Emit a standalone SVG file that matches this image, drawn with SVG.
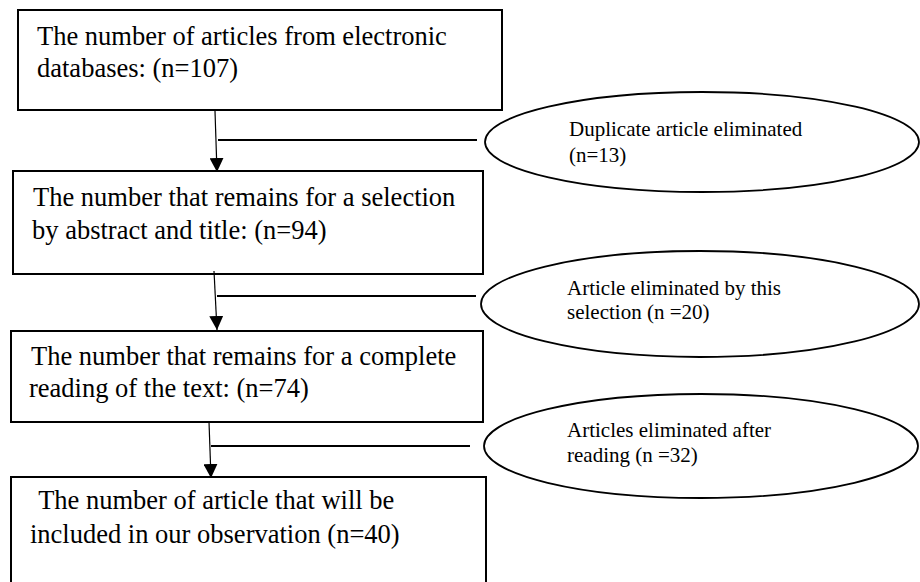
<svg xmlns="http://www.w3.org/2000/svg" width="920" height="582" viewBox="0 0 920 582">
  <style>
    .box { fill: #ffffff; stroke: #000000; stroke-width: 2; }
    .ell { fill: #ffffff; stroke: #000000; stroke-width: 1.8; }
    .bt { font-family: "Liberation Serif", "Times New Roman", serif; font-size: 26.5px; fill: #000000; }
    .et { font-family: "Liberation Serif", "Times New Roman", serif; font-size: 21px; fill: #000000; }
    .arrow { stroke: #000000; stroke-width: 1.2; fill: none; marker-end: url(#ah); }
    .side { stroke: #000000; stroke-width: 2.2; fill: none; }
  </style>
  <defs>
    <marker id="ah" markerUnits="userSpaceOnUse" markerWidth="14" markerHeight="14" refX="13" refY="6.5" orient="auto" viewBox="0 0 13 13">
      <path d="M0,0 L13,6.5 L0,13 z" fill="#000000"/>
    </marker>
  </defs>

  <g id="box1">
    <rect class="box" x="18" y="10" width="484" height="100"/>
    <text class="bt" x="37" y="45">The number of articles from electronic</text>
    <text class="bt" x="37" y="77">databases: (n=107)</text>
  </g>
  <g id="box2">
    <rect class="box" x="13" y="171" width="470" height="103"/>
    <text class="bt" x="33" y="206">The number that remains for a selection</text>
    <text class="bt" x="32" y="239">by abstract and title: (n=94)</text>
  </g>
  <g id="box3">
    <rect class="box" x="11" y="331" width="472" height="91"/>
    <text class="bt" x="31" y="365">The number that remains for a complete</text>
    <text class="bt" x="29" y="397">reading of the text: (n=74)</text>
  </g>
  <g id="box4">
    <rect class="box" x="11" y="477" width="475" height="110"/>
    <text class="bt" x="32" y="509" xml:space="preserve"> The number of article that will be</text>
    <text class="bt" x="30" y="543">included in our observation (n=40)</text>
  </g>

  <g id="ellipse1">
    <ellipse class="ell" cx="702" cy="142" rx="217" ry="50"/>
    <text class="et" x="569" y="136">Duplicate article eliminated</text>
    <text class="et" x="569" y="162">(n=13)</text>
  </g>
  <g id="ellipse2">
    <ellipse class="ell" cx="700" cy="304" rx="219" ry="53"/>
    <text class="et" x="567" y="295">Article eliminated by this</text>
    <text class="et" x="567" y="319">selection (n =20)</text>
  </g>
  <g id="ellipse3">
    <ellipse class="ell" cx="701" cy="446" rx="217" ry="52"/>
    <text class="et" x="567" y="437">Articles eliminated after</text>
    <text class="et" x="567" y="462">reading (n =32)</text>
  </g>

  <g id="connectors">
    <line class="arrow" x1="215" y1="111" x2="217" y2="172"/>
    <line class="arrow" x1="214" y1="271" x2="217" y2="330"/>
    <line class="arrow" x1="209" y1="422" x2="211" y2="478"/>
    <line class="side" x1="218" y1="140" x2="477" y2="140"/>
    <line class="side" x1="217" y1="296" x2="476" y2="296"/>
    <line class="side" x1="211" y1="446" x2="470" y2="446"/>
  </g>
</svg>
